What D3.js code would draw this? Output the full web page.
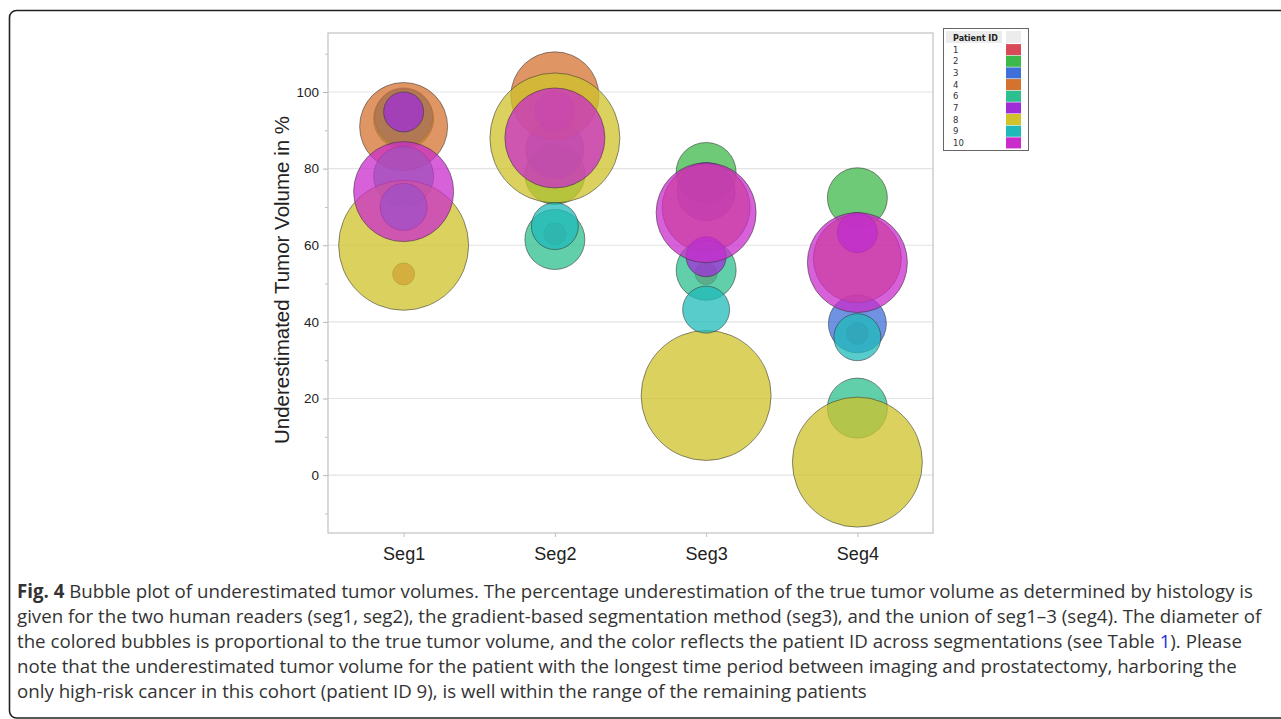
<!DOCTYPE html>
<html>
<head>
<meta charset="utf-8">
<script src="https://cdn.jsdelivr.net/npm/d3@7"></script>
<style>
  html, body { margin: 0; padding: 0; background: #fff; }
  svg { display: block; }
</style>
</head>
<body>
<svg id="chart" width="1281" height="719"></svg>
<script>
// ---------- data ----------
const categories = ["Seg1", "Seg2", "Seg3", "Seg4"];
const patientIds = [1, 2, 3, 4, 6, 7, 8, 9, 10];
const patientColors = ["#d84a58", "#3db84a", "#3f6fd8", "#d47330", "#2dbf8f", "#a02ed8", "#cfc22a", "#20b9b9", "#c92ccb"];
// relative true tumor volume (bubble diameter proportional to it)
const tumorVolume = [11, 30, 29, 44, 30, 20, 65, 23.5, 50];
// underestimated tumor volume in % per patient (same order as patientIds)
const seg1 = [52.5, 93, 93.5, 91, 78, 94.8, 60, 70, 74];
const seg2 = [63, 78.5, 85, 99, 61.5, 95, 88, 65, 88];
const seg3 = [52.6, 79, 74, 69.8, 53.5, 57, 20.8, 43.2, 68.5];
const seg4 = [37, 72.4, 39.5, 56.5, 17.5, 63.3, 3.4, 36, 55.5];
const yTicks = [0, 20, 40, 60, 80, 100];
const yMinorTicks = [-10, 10, 30, 50, 70, 90, 110];
const captionLines = [
  "Bubble plot of underestimated tumor volumes. The percentage underestimation of the true tumor volume as determined by histology is",
  "given for the two human readers (seg1, seg2), the gradient-based segmentation method (seg3), and the union of seg1\u20133 (seg4). The diameter of",
  "the colored bubbles is proportional to the true tumor volume, and the color reflects the patient ID across segmentations (see Table |1|). Please",
  "note that the underestimated tumor volume for the patient with the longest time period between imaging and prostatectomy, harboring the",
  "only high-risk cancer in this cohort (patient ID 9), is well within the range of the remaining patients"
];

const segValues = [seg1, seg2, seg3, seg4];
const points = [];
patientIds.forEach((id, i) => {
  categories.forEach((c, j) => {
    points.push({ id, cat: c, value: segValues[j][i], size: tumorVolume[i], color: patientColors[i], order: i });
  });
});
points.sort((a, b) => a.order - b.order);

// ---------- layout ----------
const svg = d3.select("#chart");
const plot = { left: 328, right: 933, top: 33, bottom: 533 };

const x = d3.scalePoint().domain(categories).range([plot.left, plot.right]).padding(0.5);
const y = d3.scaleLinear().domain([-15.1, 115.4]).range([plot.bottom, plot.top]);
const r = d3.scaleLinear().domain([0, 65]).range([0, 65]);

// figure frame
svg.append("rect")
  .attr("x", 9.5).attr("y", 10.5).attr("width", 1290).attr("height", 707.5)
  .attr("rx", 7).attr("fill", "none").attr("stroke", "#222").attr("stroke-width", 1.6);

// gridlines
svg.append("g").selectAll("line").data(yTicks).join("line")
  .attr("x1", plot.left).attr("x2", plot.right)
  .attr("y1", d => y(d)).attr("y2", d => y(d))
  .attr("stroke", "#e3e3e3").attr("stroke-width", 1.2);

// y axis
const yAxis = d3.axisLeft(y).tickValues(yTicks).tickSize(5).tickPadding(4);
const gy = svg.append("g").attr("transform", `translate(${plot.left},0)`).call(yAxis);
gy.select(".domain").remove();
gy.selectAll(".tick line").attr("stroke", "#b5b5b5");
gy.selectAll(".tick text").attr("font-family", "Liberation Sans, Arial, sans-serif")
  .attr("font-size", 13.5).attr("fill", "#222");
const yMinor = d3.axisLeft(y).tickValues(yMinorTicks).tickSize(3).tickFormat("");
const gym = svg.append("g").attr("transform", `translate(${plot.left},0)`).call(yMinor);
gym.select(".domain").remove();
gym.selectAll(".tick line").attr("stroke", "#c0c0c0");

// x axis
const xAxis = d3.axisBottom(x).tickSize(4).tickPadding(10);
const gx = svg.append("g").attr("transform", `translate(0,${plot.bottom})`).call(xAxis);
gx.select(".domain").remove();
gx.selectAll(".tick line").attr("stroke", "#c0c0c0");
gx.selectAll(".tick text").attr("font-family", "Liberation Sans, Arial, sans-serif")
  .attr("font-size", 18).attr("fill", "#222");

// plot frame
svg.append("rect")
  .attr("x", plot.left).attr("y", plot.top)
  .attr("width", plot.right - plot.left).attr("height", plot.bottom - plot.top)
  .attr("fill", "none").attr("stroke", "#c6c6c6").attr("stroke-width", 1.3);

// y title
svg.append("text")
  .attr("transform", `translate(289,280) rotate(-90)`)
  .attr("text-anchor", "middle")
  .attr("font-family", "Liberation Sans, Arial, sans-serif")
  .attr("font-size", 20.5).attr("fill", "#222")
  .text("Underestimated Tumor Volume in %");

// bubbles
svg.append("g").selectAll("circle").data(points).join("circle")
  .attr("cx", d => x(d.cat))
  .attr("cy", d => y(d.value))
  .attr("r", d => r(d.size))
  .attr("fill", d => d.color)
  .attr("fill-opacity", 0.75)
  .attr("stroke", "#333")
  .attr("stroke-opacity", 0.55)
  .attr("stroke-width", 1);

// legend
const lg = svg.append("g").attr("transform", "translate(943,28)");
lg.append("rect").attr("x", 0.5).attr("y", 0.5).attr("width", 85).attr("height", 122)
  .attr("fill", "#fff").attr("stroke", "#666").attr("stroke-width", 1);
lg.append("rect").attr("x", 3).attr("y", 3).attr("width", 56).attr("height", 12).attr("fill", "#ececec");
lg.append("rect").attr("x", 63).attr("y", 3).attr("width", 15).attr("height", 12).attr("fill", "#ececec");
lg.append("text").attr("x", 10).attr("y", 12.5)
  .attr("font-family", "DejaVu Sans, sans-serif").attr("font-weight", "bold")
  .attr("font-size", 8).attr("fill", "#222").text("Patient ID");
const rowY = d3.scaleBand().domain(patientIds).range([15.5, 121]).padding(0.05);
const rows = lg.selectAll("g.row").data(patientIds.map((id, i) => ({ id, color: patientColors[i] })))
  .join("g").attr("class", "row");
rows.append("rect").attr("x", 63).attr("y", d => rowY(d.id)).attr("width", 15)
  .attr("height", rowY.bandwidth()).attr("fill", d => d.color);
rows.append("text").attr("x", 10).attr("y", d => rowY(d.id) + rowY.bandwidth() / 2 + 3.2)
  .attr("font-family", "DejaVu Sans, sans-serif").attr("font-size", 8.5).attr("fill", "#333")
  .text(d => d.id);

// caption
const cap = svg.append("g").attr("font-family", "Open Sans, sans-serif").attr("font-size", 18.7).attr("fill", "#333");
const lineY0 = 598, lineGap = 25;
captionLines.forEach((line, i) => {
  const t = cap.append("text").attr("x", 17).attr("y", lineY0 + i * lineGap);
  if (i === 0) {
    t.append("tspan").attr("font-weight", "bold").text("Fig. 4");
    t.append("tspan").text(" " + line);
  } else {
    const parts = line.split("|");
    parts.forEach((p, k) => {
      const ts = t.append("tspan").text(p);
      if (k === 1) ts.attr("fill", "#2b2bd8");
    });
  }
});
</script>
</body>
</html>
